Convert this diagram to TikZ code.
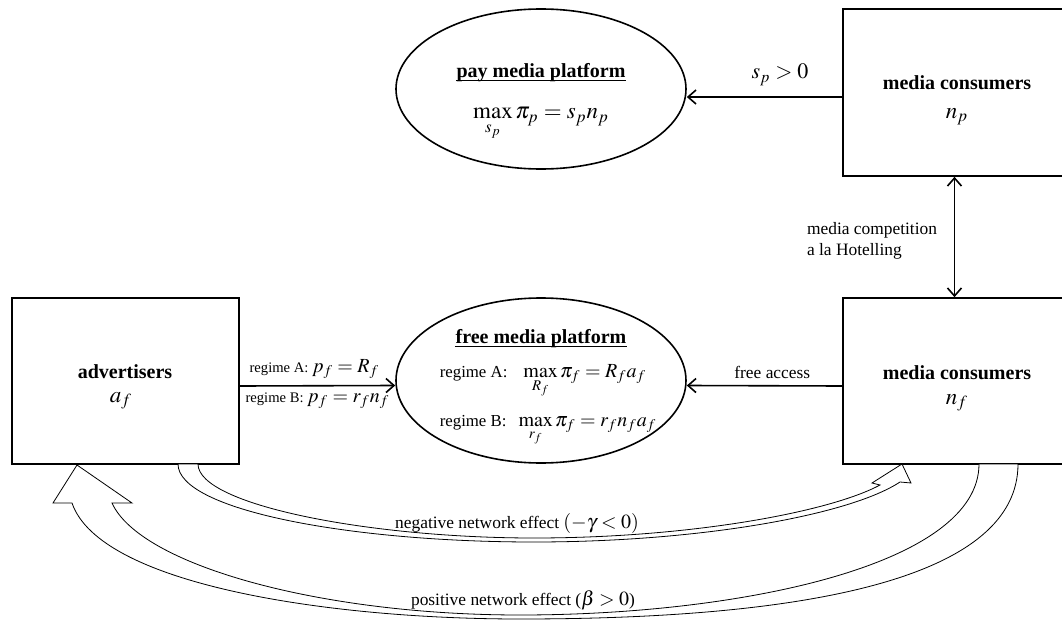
\documentclass[tikz,border=0pt]{standalone}
\usepackage{fontspec}
\usepackage{mathptmx}
\setmainfont{Liberation Serif}
\usetikzlibrary{arrows.meta,shapes.geometric}

\begin{document}
\begin{tikzpicture}[x=0.5pt, y=-0.5pt, thick, >={Straight Barb[length=4pt,width=7pt]}]
    \tikzstyle{agent}=[rectangle, draw, thick, inner sep=0pt, minimum width=111.5pt]
    \tikzstyle{platform}=[ellipse, draw, thick, inner sep=0pt, minimum width=145pt]
    \tikzstyle{title}=[font=\fontsize{10}{12}\selectfont\bfseries]
    \tikzstyle{heading}=[title, inner xsep=0pt]
    \tikzstyle{var}=[font=\fontsize{11.5}{14}\selectfont]
    \tikzstyle{annot}=[font=\fontsize{8.7}{10.5}\selectfont]
    \tikzstyle{regime}=[font=\fontsize{7.3}{9}\selectfont]
    \tikzstyle{regime in}=[font=\fontsize{8.4}{10}\selectfont, anchor=base west, inner sep=0pt]
    \tikzstyle{effect}=[draw, thin, fill=white]
    \newcommand{\mth}[1]{{\fontsize{11}{13}\selectfont$#1$}}
    \newcommand{\smth}[1]{{\fontsize{10}{12}\selectfont$#1$}}

    \useasboundingbox (0,0) rectangle (1062,621);
    \clip (0,0) rectangle (1062,621);

    % Advertisers and consumers
    \node[agent, minimum width=113.5pt, minimum height=83pt] (adv) at (125.5,381) {};
    \node[agent, minimum height=83.5pt] (consp) at (954.5,92.5) {};
    \node[agent, minimum height=83pt] (consf) at (954.5,381) {};

    \node[title] (advT) at (125,372) {advertisers};
    \node[var] (advV) at (121,401) {$a_f$};
    \node[title] (conspT) at (957,83) {media consumers};
    \node[var] (conspV) at (957,117) {$n_p$};
    \node[title] (consfT) at (957,373) {media consumers};
    \node[var] (consfV) at (957,403) {$n_f$};

    % Platforms
    \node[platform, minimum height=80pt] (pay) at (541,89) {};
    \node[platform, minimum height=82.5pt] (free) at (541,380.5) {};

    \node[heading] (payT) at (541,73) {pay media platform};
    \draw[thin] ([yshift=-1.2pt]payT.base west) -- ([yshift=-1.2pt]payT.base east);
    \node[var] (payV) at (541,124) {$\max\limits_{s_p}\pi_p = s_p n_p$};
    \node[heading] (freeT) at (541,339) {free media platform};
    \draw[thin] ([yshift=-1.2pt]freeT.base west) -- ([yshift=-1.2pt]freeT.base east);
    \node[regime in] (freeA) at (439,377) {regime A:\hspace{8pt}\smth{\max\limits_{R_f}\pi_f = R_f a_f}};
    \node[regime in] (freeB) at (439,426) {regime B:\hspace{6pt}\smth{\max\limits_{r_f}\pi_f = r_f n_f a_f}};

    % Money and access
    \draw[->] ([yshift=-2.5pt]adv.east) -- ([yshift=-2.5pt]free.west)
        node[regime, above, pos=0.48] (priceA) {regime A: \smth{p_f = R_f}}
        node[regime, below, pos=0.5] (priceB) {regime B: \smth{p_f = r_f n_f}};
    \draw[->] ([yshift=-2.5pt]consf.west) -- ([yshift=-2.5pt]free.east)
        node[annot, above, pos=0.45] (access) {free access};
    \draw[->] ([yshift=-2.25pt]consp.west) -- ([yshift=-4pt]pay.east)
        node[annot, above, pos=0.4, yshift=2pt] (price) {\mth{s_p > 0}};

    % Competition between consumers
    \draw[<->] (consp.south) -- (consf.north)
        node[annot, left, midway, align=left, xshift=-5pt, yshift=-2pt] (hotel) {media competition\\a la Hotelling};

    % Negative network effect
    \draw[effect] (178,464) .. controls (178,510) and (350,542) .. (534,542)
        .. controls (700,542) and (850,515) .. (900,482)
        -- (911,483) -- (902,464) -- (872,483) -- (880,485)
        .. controls (830,512) and (690,538) .. (534,538)
        .. controls (370,538) and (198,505) .. (198,464) -- cycle;
    \node[annot] (negT) at (517,523) {negative network effect \smth{(-\gamma<0)}};

    % Positive network effect
    \draw[effect] (1018,464) .. controls (1018,575) and (820,619) .. (520,619)
        .. controls (330,619) and (100,585) .. (72,503)
        -- (53,503) -- (77,465) -- (132,503) -- (112,503)
        .. controls (140,565) and (320,615) .. (520,615)
        .. controls (740,615) and (979,565) .. (979,464) -- cycle;
    \node[annot] (posT) at (523,600) {positive network effect (\smth{\beta>0})};
\end{tikzpicture}
\end{document}
